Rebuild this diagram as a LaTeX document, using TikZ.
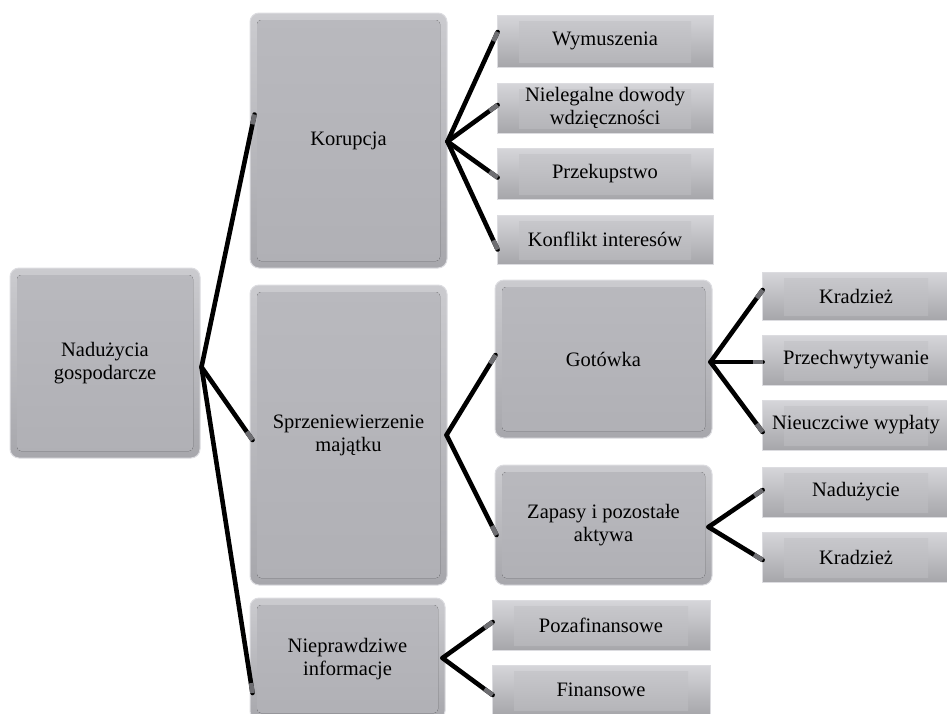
\documentclass[tikz,border=0pt]{standalone}
\usepackage{fontspec}
\setmainfont{Liberation Serif}
\usetikzlibrary{calc}
\definecolor{frameA}{HTML}{CBCBCF}
\definecolor{frameB}{HTML}{A7A7AC}
\definecolor{innerA}{HTML}{B9B9BE}
\definecolor{innerB}{HTML}{B0B0B5}
\definecolor{edgeL}{HTML}{DCDCE0}
\definecolor{leafA}{HTML}{D6D6DA}
\definecolor{leafB}{HTML}{A6A6AA}
\definecolor{leafIA}{HTML}{CACACE}
\definecolor{leafIB}{HTML}{B3B3B7}
\definecolor{tipgray}{HTML}{6E6E72}
\tikzset{
  mainbox/.style={rounded corners=9pt, top color=frameA, bottom color=frameB,
    draw=edgeL, line width=1pt, align=center, inner sep=2pt, text=black,
    font=\fontsize{20.5}{23}\selectfont,
    path picture={\fill[rounded corners=4pt, top color=innerA, bottom color=innerB]
      ([shift={(7pt,7pt)}]path picture bounding box.south west) rectangle
      ([shift={(-7pt,-7pt)}]path picture bounding box.north east);}},
  leafbox/.style={top color=leafA, bottom color=leafB, draw=edgeL, line width=0.8pt,
    align=center, inner sep=1pt, text=black,
    font=\fontsize{20.5}{23}\selectfont,
    path picture={\fill[top color=leafIA, bottom color=leafIB]
      ([shift={(22pt,5pt)}]path picture bounding box.south west) rectangle
      ([shift={(-22pt,-6pt)}]path picture bounding box.north east);}},
  connline/.style={line width=4.6pt, black, line cap=round},
  conntip/.style={line width=4.6pt, tipgray},
}
\newcommand\myconn[2]{\draw[connline] (#1) -- (#2); \draw[conntip] ($(#2)!10pt!(#1)$) -- (#2);}
\begin{document}
\begin{tikzpicture}[x=1pt,y=-1pt]
\useasboundingbox (0,0) rectangle (947,713);
% main boxes
\node[mainbox, minimum width=190pt, minimum height=190pt] (root) at (105,363) {Nadużycia\\gospodarcze};
\node[mainbox, minimum width=197pt, minimum height=255pt] (kor) at (348.5,140.5) {Korupcja};
\node[mainbox, minimum width=197pt, minimum height=300pt] (spr) at (348.5,435) {Sprzeniewierzenie\\majątku};
\node[mainbox, minimum width=195pt, minimum height=122pt] (nie) at (347.5,659) {Nieprawdziwe\\informacje};
\node[mainbox, minimum width=217pt, minimum height=158pt] (got) at (603.5,359) {Gotówka};
\node[mainbox, minimum width=217pt, minimum height=120pt] (zap) at (603.5,525) {Zapasy i pozostałe\\aktywa};
% leaves
\node[leafbox, minimum width=216pt, minimum height=52pt] (wym) at (605,41) {Wymuszenia};
\node[leafbox, minimum width=216pt, minimum height=50pt] (nld) at (605,108) {Nielegalne dowody\\wdzięczności};
\node[leafbox, minimum width=216pt, minimum height=51pt] (prz) at (605,173.5) {Przekupstwo};
\node[leafbox, minimum width=216pt, minimum height=49pt] (kon) at (605,239.5) {Konflikt interesów};
\node[leafbox, minimum width=188pt, minimum height=48pt] (kr1) at (856,296) {Kradzież};
\node[leafbox, minimum width=188pt, minimum height=50pt] (pch) at (856,360) {Przechwytywanie};
\node[leafbox, minimum width=188pt, minimum height=50pt] (nwy) at (856,425) {Nieuczciwe wypłaty};
\node[leafbox, minimum width=188pt, minimum height=50pt] (ndz) at (856,492) {Nadużycie};
\node[leafbox, minimum width=188pt, minimum height=50pt] (kr2) at (856,557) {Kradzież};
\node[leafbox, minimum width=218pt, minimum height=50pt] (poz) at (601,625) {Pozafinansowe};
\node[leafbox, minimum width=218pt, minimum height=50pt] (fin) at (601,690) {Finansowe};
% junctions and ends
\coordinate (jroot) at ($(root.east)+(1,4)$);
\coordinate (ekor) at ($(kor.west)+(5,-26)$);
\coordinate (espr) at ($(spr.west)+(3,5)$);
\coordinate (enie) at ($(nie.west)+(3,34)$);
\coordinate (jkor) at ($(kor.east)+(0,1)$);
\coordinate (ewym) at ($(wym.west)+(1,-9)$);
\coordinate (enld) at ($(nld.west)+(1,-3)$);
\coordinate (eprz) at ($(prz.west)+(1,4)$);
\coordinate (ekon) at ($(kon.west)+(1,10)$);
\coordinate (jspr) at ($(spr.east)+(-1,0)$);
\coordinate (egot) at ($(got.west)+(1,-4)$);
\coordinate (ezap) at ($(zap.west)+(2,10)$);
\coordinate (jgot) at ($(got.east)+(-2,3)$);
\coordinate (ekr1) at ($(kr1.west)+(1,-6)$);
\coordinate (epch) at ($(pch.west)+(1,2)$);
\coordinate (enwy) at ($(nwy.west)+(1,7)$);
\coordinate (jzap) at ($(zap.east)+(-4,2)$);
\coordinate (endz) at ($(ndz.west)+(1,-2)$);
\coordinate (ekr2) at ($(kr2.west)+(1,3)$);
\coordinate (jnie) at ($(nie.east)+(-3,-1)$);
\coordinate (epoz) at ($(poz.west)+(1,-3)$);
\coordinate (efin) at ($(fin.west)+(1,5)$);
% connectors
\myconn{jroot}{ekor}
\myconn{jroot}{espr}
\myconn{jroot}{enie}
\myconn{jkor}{ewym}
\myconn{jkor}{enld}
\myconn{jkor}{eprz}
\myconn{jkor}{ekon}
\myconn{jspr}{egot}
\myconn{jspr}{ezap}
\myconn{jgot}{ekr1}
\myconn{jgot}{epch}
\myconn{jgot}{enwy}
\myconn{jzap}{endz}
\myconn{jzap}{ekr2}
\myconn{jnie}{epoz}
\myconn{jnie}{efin}
\end{tikzpicture}
\end{document}
